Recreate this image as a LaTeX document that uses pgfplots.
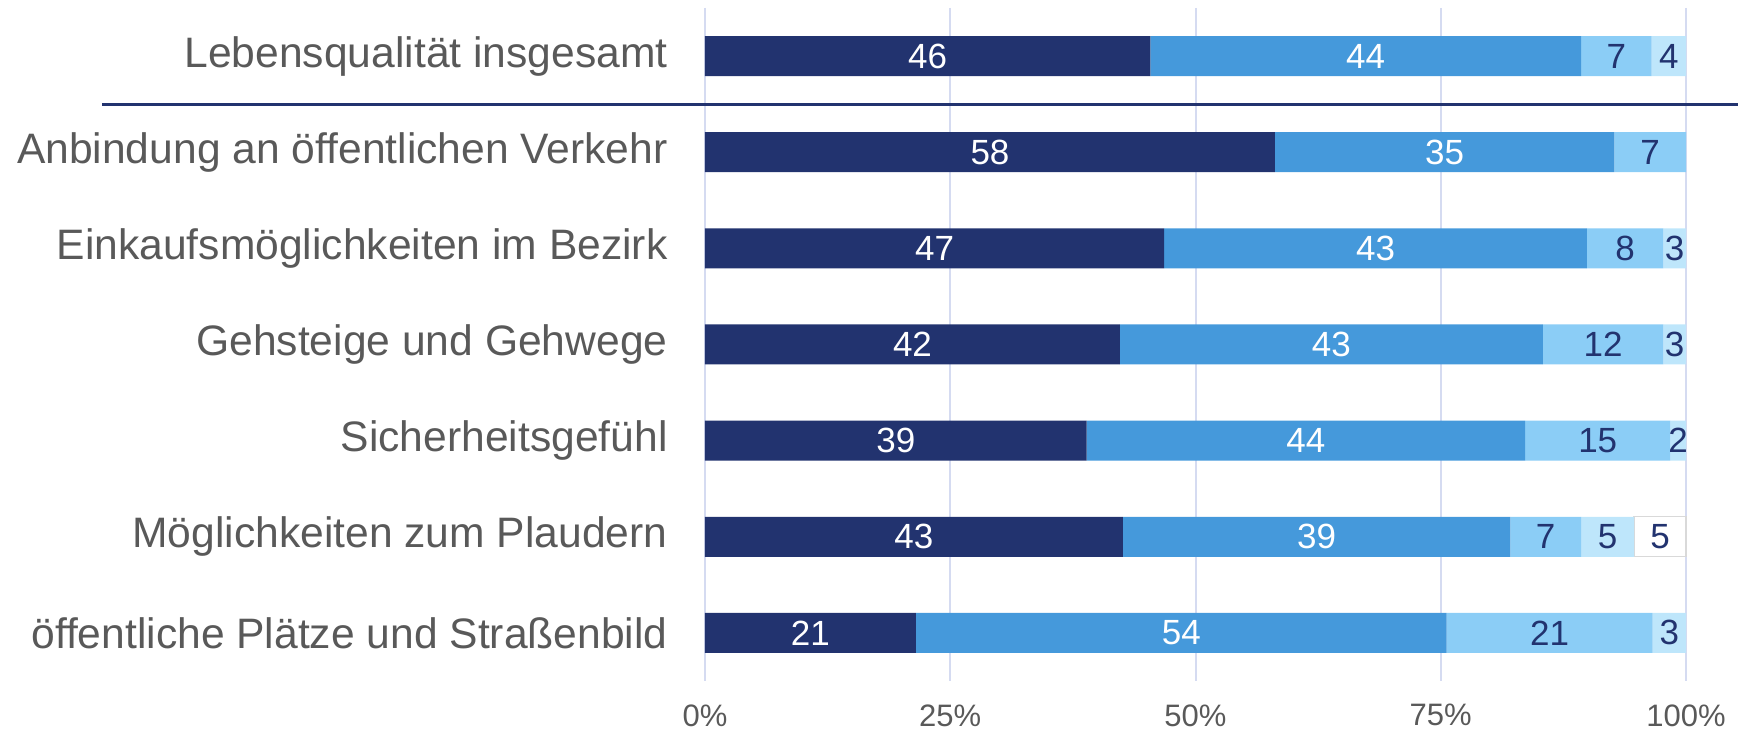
\documentclass[border=0pt]{standalone}
\usepackage{fontspec}
\setmainfont{Liberation Sans}
\usepackage{pgfplots}
\usepackage{pgfplotstable}
\pgfplotsset{compat=1.18}
\definecolor{navy}{HTML}{22336F}
\definecolor{midblue}{HTML}{4599DB}
\definecolor{lightblue}{HTML}{8BCDF6}
\definecolor{paleblue}{HTML}{BEE6FB}
\definecolor{labelgray}{HTML}{595959}
\definecolor{gridc}{HTML}{D5DBF1}

\pgfplotstableread{
y  a    b    c    d    e    la lb lc ld le
0  45.4 43.9 7.2  3.5  0    46 44 7  4  {}
1  58.1 34.6 7.3  0    0    58 35 7  {} {}
2  46.8 43.1 7.8  2.3  0    47 43 8  3  {}
3  42.3 43.1 12.3 2.3  0    42 43 12 3  {}
4  38.9 44.7 14.8 1.6  0    39 44 15 2  {}
5  42.6 39.5 7.2  5.4  5.3  43 39 7  5  5
6  21.5 54.1 21.0 3.4  0    21 54 21 3  {}
}\datatable

\begin{document}
\begin{tikzpicture}
\begin{axis}[
  xbar stacked,
  scale only axis,
  width=490.5pt, height=336.5pt,
  bar width=20pt,
  xmin=0, xmax=100,
  ymin=-0.5, ymax=6.5,
  y dir=reverse,
  ytick={0,...,6},
  yticklabels={Lebensqualität insgesamt,Anbindung an öffentlichen Verkehr,Einkaufsmöglichkeiten im Bezirk,Gehsteige und Gehwege,Sicherheitsgefühl,Möglichkeiten zum Plaudern,öffentliche Plätze und Straßenbild},
  xtick={0,25,50,75,100},
  xticklabels={0\%,25\%,50\%,75\%,100\%},
  axis line style={draw=none},
  major tick length=0pt,
  xmajorgrids,
  grid style={gridc, line width=1pt},
  yticklabel style={anchor=east, inner sep=0pt, xshift=-18.5pt, text=labelgray, font=\fontsize{21.3pt}{24pt}\selectfont},
  xticklabel style={anchor=north, inner sep=0pt, yshift=-11.5pt, text=labelgray, font=\fontsize{15.5pt}{18pt}\selectfont},
  point meta=explicit symbolic,
  nodes near coords,
  nodes near coords align={center},
  every node near coord/.append style={anchor=center, inner sep=0pt, font=\fontsize{17.5pt}{20pt}\selectfont},
  clip=false,
]
\addplot[fill=navy, draw=none, every node near coord/.append style={text=white}] table[x=a,y=y,meta=la]{\datatable};
\addplot[fill=midblue, draw=none, every node near coord/.append style={text=white}] table[x=b,y=y,meta=lb]{\datatable};
\addplot[fill=lightblue, draw=none, every node near coord/.append style={text=navy}] table[x=c,y=y,meta=lc]{\datatable};
\addplot[fill=paleblue, draw=none, every node near coord/.append style={text=navy}] table[x=d,y=y,meta=ld]{\datatable};
\addplot[fill=white, draw=black!15, line width=0.6pt, every node near coord/.append style={text=navy}] table[x=e,y=y,meta=le]{\datatable};
\draw[navy, line width=1.6pt] ([xshift=-301.5pt]axis cs:0,0.5) -- ([xshift=26pt]axis cs:100,0.5);
\end{axis}
\pgfresetboundingbox
\path ([xshift=-352.5pt,yshift=-25pt]current axis.south west) rectangle ([xshift=26pt,yshift=4pt]current axis.north east);
\end{tikzpicture}
\end{document}
